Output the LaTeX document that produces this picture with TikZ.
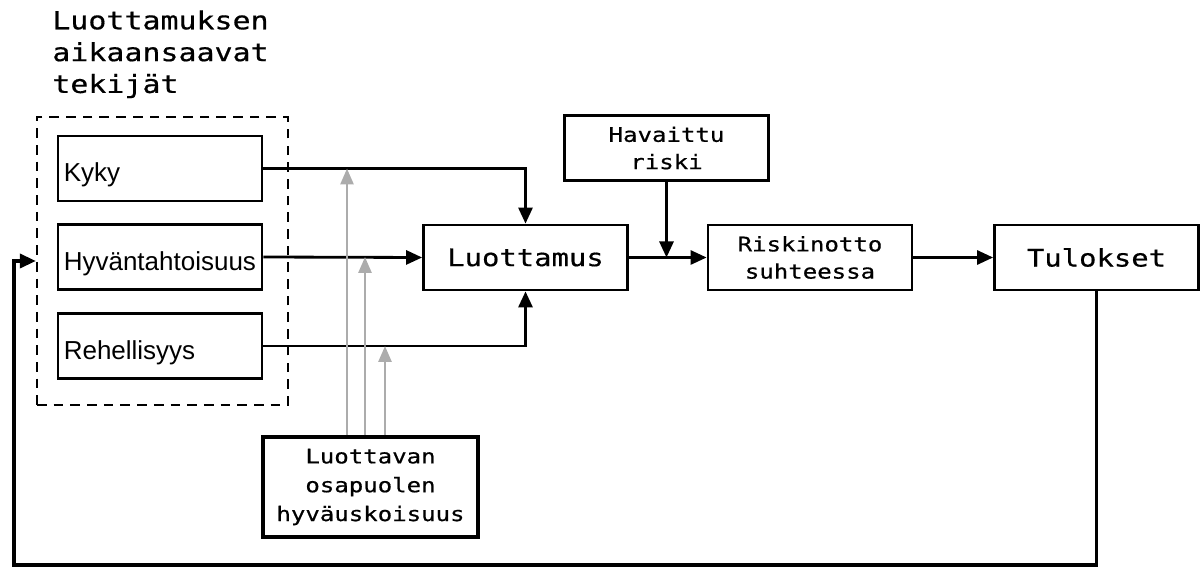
\documentclass[tikz,border=0pt]{standalone}
\usepackage{fontspec}
\setmainfont{Liberation Sans}
\setmonofont[FakeStretch=1.2,FakeBold=0.6]{DejaVu Sans Mono}
\usetikzlibrary{arrows.meta,positioning}

\begin{document}
\begin{tikzpicture}[x=0.02cm,y=-0.02cm,
  factor/.style={draw, line width=1.5pt, minimum width=4.08cm, minimum height=1.3cm, text width=3.85cm, text height=15pt, text depth=0pt, align=left, inner xsep=0.1cm, font=\fontsize{14.8}{18}\selectfont},
  stage/.style={draw, line width=1.6pt, minimum width=4.08cm, minimum height=1.3cm, align=center, font=\ttfamily\fontsize{11.4}{15.5}\selectfont},
  flow/.style={line width=1.6pt, -{Triangle[length=0.32cm,width=0.28cm]}},
  pull/.style={line width=1.6pt, gray!65, -{Triangle[length=0.32cm,width=0.26cm]}}
]
  \useasboundingbox (0,0) rectangle (1203,570);

  % Factors of trust
  \node[font=\ttfamily\fontsize{14.2}{18.1}\selectfont, align=left, anchor=north west, inner sep=0] (title) at (52,10) {Luottamuksen\\aikaansaavat\\tekijät};
  \node[draw, line width=1.3pt, dash pattern=on 5.5pt off 4pt, minimum width=5.02cm, minimum height=5.76cm] (grp) at (162.5,261) {};
  \node[factor] (kyky) at (160,168.5) {Kyky};
  \node[factor] (hyv) at (160,257) {Hyväntahtoisuus};
  \node[factor] (reh) at (160,346) {Rehellisyys};

  % Main chain
  \node[stage, font=\ttfamily\fontsize{13.7}{16}\selectfont] (luott) at (525.5,257.5) {Luottamus};
  \node[stage] (hav) at (666.5,148) {Havaittu\\riski};
  \node[stage] (risk) at (810,257.5) {Riskinotto\\suhteessa};
  \node[stage, font=\ttfamily\fontsize{13.7}{16}\selectfont] (tul) at (1096.5,257.5) {Tulokset};
  \node[stage, line width=2.2pt, minimum width=4.3cm, minimum height=2cm, font=\ttfamily\fontsize{11.4}{16.4}\selectfont] (hyvt) at (370.5,487) {Luottavan\\osapuolen\\hyväuskoisuus};

  \draw[flow] (kyky.east) -| (luott.north);
  \draw[flow] (hyv.east) -- (luott.west);
  \draw[flow] (reh.east) -| (luott.south);
  \draw[flow] (luott.east) -- (risk.west);
  \draw[flow] (hav.south) -- (hav.south |- luott.east);
  \draw[flow] (risk.east) -- (tul.west);

  % Trustee propensity
  \draw[pull] ([xshift=-0.47cm]hyvt.north) -- ([xshift=-0.47cm]hyvt.north |- kyky.east);
  \draw[pull] ([xshift=-0.11cm]hyvt.north) -- ([xshift=-0.11cm]hyvt.north |- hyv.east);
  \draw[pull] ([xshift=0.29cm]hyvt.north) -- ([xshift=0.29cm]hyvt.north |- reh.east);

  % Feedback
  \coordinate (fbl) at (14,565);
  \draw[flow, line width=2pt] (tul.south) |- (fbl) |- (grp.west);
\end{tikzpicture}
\end{document}
